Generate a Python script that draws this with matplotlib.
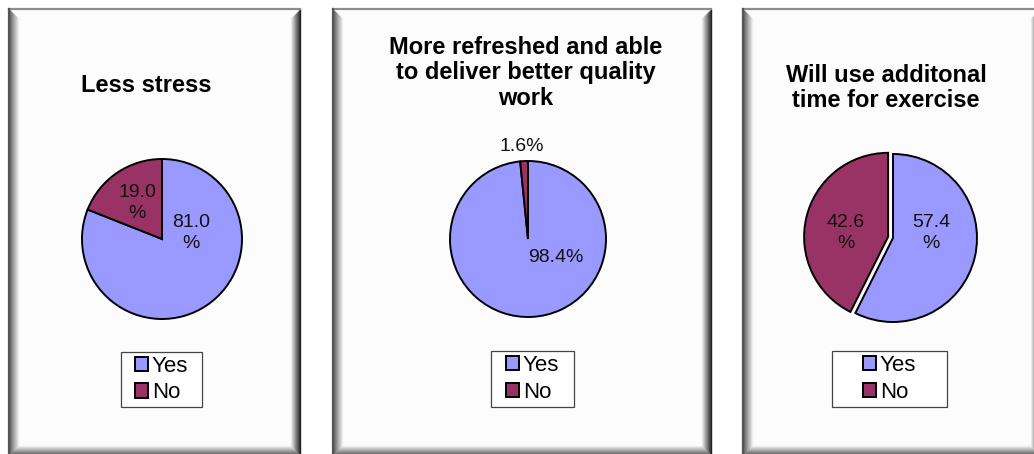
import matplotlib
matplotlib.use("Agg")
import matplotlib.pyplot as plt
from matplotlib.patches import Rectangle

plt.rcParams["font.family"] = ["Liberation Sans", "DejaVu Sans"]

# data
categories = ["Yes", "No"]
titles = [
    "Less stress",
    "More refreshed and able\nto deliver better quality\nwork",
    "Will use additonal\ntime for exercise",
]
yes_pct = [81.0, 98.4, 57.4]
no_pct = [19.0, 1.6, 42.6]

YES_COLOR = "#9999ff"
NO_COLOR = "#993366"
W, H = 1034, 454

# layout in pixels (top-left origin)
panels = [(9, 9, 300, 455), (333, 9, 711, 455), (743, 9, 1040, 455)]
plot_boxes = [(82, 161, 241, 318), (450, 161, 606, 317), (805, 152, 977, 323)]
centers = [(162, 239, 80), (528, 239, 78), (893, 238, 84)]
explodes = [0.0, 0.0, 0.06]
wrap_pct = [True, False, True]
label_pos = [
    [(0.36, 0.07), (-0.31, 0.45)],
    [(0.36, -0.24), (-0.08, 1.19)],
    [(0.45, 0.06), (-0.56, 0.06)],
]
title_pos = [(146, 85), (526, 73), (886, 88)]
legend_boxes = [(121, 352, 202, 407), (491, 351, 574, 407), (832, 351, 947, 407)]

fig = plt.figure(figsize=(W / 100, H / 100), dpi=100)
fig.patch.set_facecolor("white")

bg = fig.add_axes([0, 0, 1, 1])
bg.set_xlim(0, W)
bg.set_ylim(H, 0)
bg.axis("off")


def draw_panel(x0, y0, x1, y1):
    bg.add_patch(Rectangle((x0, y0), x1 - x0, y1 - y0, facecolor="#fcfcfc", edgecolor="none"))
    n = 11
    for i in range(n):
        t = i / (n - 1)
        left = 0.35 + 0.63 * t
        right = 0.12 + 0.86 * t
        bottom = 0.3 + 0.68 * t
        bg.plot([x0 + i, x0 + i], [y0 + i, y1 - i], color=str(left), lw=1.0, solid_capstyle="butt")
        bg.plot([x1 - i, x1 - i], [y0 + i, y1 - i], color=str(right), lw=1.0, solid_capstyle="butt")
        bg.plot([x0 + i, x1 - i], [y1 - i, y1 - i], color=str(bottom), lw=1.0, solid_capstyle="butt")
    bg.plot([x0, x1], [y0, y0], color="#8c8c8c", lw=1.6)
    bg.plot([x0, x0], [y0, y1], color="#555555", lw=1.6)


def fig_box(x0, y0, x1, y1):
    return [x0 / W, 1 - y1 / H, (x1 - x0) / W, (y1 - y0) / H]


for k in range(3):
    draw_panel(*panels[k])

    bx0, by0, bx1, by1 = plot_boxes[k]
    cx, cy, r = centers[k]
    ax = fig.add_axes(fig_box(bx0, by0, bx1, by1))
    ax.set_facecolor("#eeeeee")
    for s in ax.spines.values():
        s.set_visible(False)
    ax.set_xticks([])
    ax.set_yticks([])

    if wrap_pct[k]:
        fmt = lambda p: f"{p:.1f}\n%"
    else:
        fmt = lambda p: f"{p:.1f}%"

    wedges, _, autotexts = ax.pie(
        [yes_pct[k], no_pct[k]],
        colors=[YES_COLOR, NO_COLOR],
        startangle=90,
        counterclock=False,
        explode=[0, explodes[k]],
        autopct=fmt,
        wedgeprops=dict(edgecolor="black", linewidth=1.4),
        textprops=dict(fontsize=14, color="#111111"),
    )
    for t, pos in zip(autotexts, label_pos[k]):
        t.set_position(pos)
        t.set_ha("center")
        t.set_va("center")
        t.set_linespacing(1.3)
    ax.set_aspect("auto")
    ax.set_xlim((bx0 - cx) / r, (bx1 - cx) / r)
    ax.set_ylim((cy - by1) / r, (cy - by0) / r)

    tx, ty = title_pos[k]
    fig.text(tx / W, 1 - ty / H, titles[k], ha="center", va="center",
             fontsize=17, fontweight="bold", linespacing=1.15)

    lx0, ly0, lx1, ly1 = legend_boxes[k]
    bg.add_patch(Rectangle((lx0, ly0), lx1 - lx0, ly1 - ly0, facecolor="white",
                           edgecolor="#444444", lw=0.9))
    fig.legend(wedges, categories, loc="center",
               bbox_to_anchor=((lx0 + lx1) / 2 / W, 1 - (ly0 + ly1) / 2 / H),
               frameon=False, fontsize=16, handlelength=0.6, handleheight=0.6,
               handletextpad=0.15, labelspacing=0.25, borderpad=0.0)

fig.savefig("out.png", dpi=100, facecolor="white")
